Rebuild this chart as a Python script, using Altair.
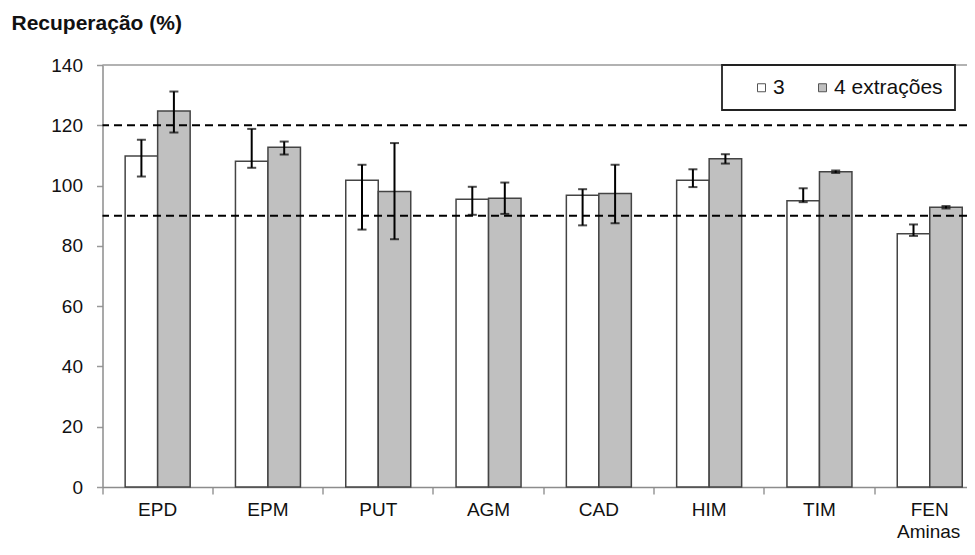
import altair as alt
import pandas as pd

# ---- data ----
categories = ["EPD", "EPM", "PUT", "AGM", "CAD", "HIM", "TIM", "FEN"]
series = ["3", "4 extrações"]

mean_3 = [109.8, 108.1, 101.8, 95.5, 96.8, 101.8, 95.0, 84.0]
low_3 = [103.0, 105.9, 85.4, 90.3, 86.8, 99.5, 94.5, 83.3]
high_3 = [115.2, 118.8, 106.9, 99.6, 98.8, 105.4, 99.1, 87.1]

mean_4 = [124.7, 112.7, 98.0, 95.8, 97.4, 108.9, 104.6, 92.8]
low_4 = [117.6, 110.3, 82.2, 90.6, 87.5, 107.3, 104.2, 92.4]
high_4 = [131.2, 114.6, 114.1, 101.0, 106.9, 110.4, 105.0, 93.2]

ref_lines = [120, 90]
y_ticks = [0, 20, 40, 60, 80, 100, 120, 140]
y_max = 140

rows = []
for i, c in enumerate(categories):
    rows.append({"cat": c, "serie": series[0], "v": mean_3[i], "lo": low_3[i], "hi": high_3[i]})
    rows.append({"cat": c, "serie": series[1], "v": mean_4[i], "lo": low_4[i], "hi": high_4[i]})
df = pd.DataFrame(rows)
df_ref = pd.DataFrame({"ref": ref_lines})
df_top = pd.DataFrame({"top": [y_max]})

FONT = "Liberation Sans"
STEP = 110.3
PLOT_W = 864.5          # visible part only: the reference is cropped at the right edge
PLOT_H = 422

x_enc = alt.X(
    "cat:N",
    sort=categories,
    scale=alt.Scale(domain=categories, range=[0, STEP * len(categories)], paddingInner=0, paddingOuter=0),
    axis=alt.Axis(
        bandPosition=0,
        tickSize=7,
        tickColor="#999999",
        tickWidth=1.5,
        domainColor="#8c8c8c",
        domainWidth=1.5,
        labelAngle=0,
        labelFont=FONT,
        labelFontSize=19,
        labelColor="#111111",
        labelPadding=6,
        title="Aminas",
        titleFont=FONT,
        titleFontSize=19,
        titleFontWeight="normal",
        titleColor="#111111",
        titleX=794,
        titleY=50,
        titleAlign="left",
        titleBaseline="alphabetic",
    ),
)
xo_enc = alt.XOffset(
    "serie:N",
    sort=series,
    scale=alt.Scale(domain=series, paddingInner=0, paddingOuter=0.697),
)
y_scale = alt.Scale(domain=[0, y_max], nice=False, zero=True)
y_axis = alt.Axis(
    values=y_ticks,
    grid=False,
    tickSize=6,
    tickColor="#999999",
    tickWidth=1.5,
    domainColor="#8c8c8c",
    domainWidth=1.5,
    labelFont=FONT,
    labelFontSize=19,
    labelColor="#111111",
    labelPadding=14,
    title="Recuperação (%)",
    titleFont=FONT,
    titleFontSize=21,
    titleFontWeight="bold",
    titleColor="#111111",
    titleAngle=0,
    titleX=-91.5,
    titleY=-36,
    titleAlign="left",
    titleBaseline="alphabetic",
)

base = alt.Chart(df)

bars = base.mark_bar(stroke="#444444", strokeWidth=1.5).encode(
    x=x_enc,
    xOffset=xo_enc,
    y=alt.Y("v:Q", scale=y_scale, axis=y_axis),
    fill=alt.Fill(
        "serie:N",
        sort=series,
        scale=alt.Scale(domain=series, range=["#ffffff", "#c0c0c0"]),
        legend=alt.Legend(
            title=None,
            orient="none",
            legendX=619.5,
            legendY=0,
            direction="horizontal",
            strokeColor="#222222",
            padding=12,
            symbolType="square",
            symbolSize=64,
            symbolOffset=17,
            symbolStrokeColor="#555555",
            symbolStrokeWidth=1,
            labelFont=FONT,
            labelFontSize=21,
            labelColor="#111111",
            labelOffset=1,
            columnPadding=10,
        ),
    ),
)

err_rule = base.mark_rule(color="black", strokeWidth=2).encode(
    x=alt.X("cat:N", sort=categories),
    xOffset=alt.XOffset("serie:N", sort=series),
    y="lo:Q",
    y2="hi:Q",
)
err_lo = base.mark_tick(color="black", size=9, thickness=2).encode(
    x=alt.X("cat:N", sort=categories),
    xOffset=alt.XOffset("serie:N", sort=series),
    y="lo:Q",
)
err_hi = base.mark_tick(color="black", size=9, thickness=2).encode(
    x=alt.X("cat:N", sort=categories),
    xOffset=alt.XOffset("serie:N", sort=series),
    y="hi:Q",
)

ref = alt.Chart(df_ref).mark_rule(color="black", strokeWidth=2, strokeDash=[8, 5]).encode(
    y="ref:Q"
)
top_border = alt.Chart(df_top).mark_rule(color="#999999", strokeWidth=1.5).encode(
    y="top:Q"
)

chart = alt.layer(bars, top_border, ref, err_rule, err_lo, err_hi).properties(
    width=PLOT_W,
    height=PLOT_H,
    autosize=alt.AutoSizeParams(type="none"),
    padding={"left": 94.5, "top": 57, "right": 0, "bottom": 51},
    background="white",
).configure_view(stroke=None).configure_legend(strokeWidth=1.8)

chart.save("out.html", embed_options={"renderer": "svg", "actions": False})
